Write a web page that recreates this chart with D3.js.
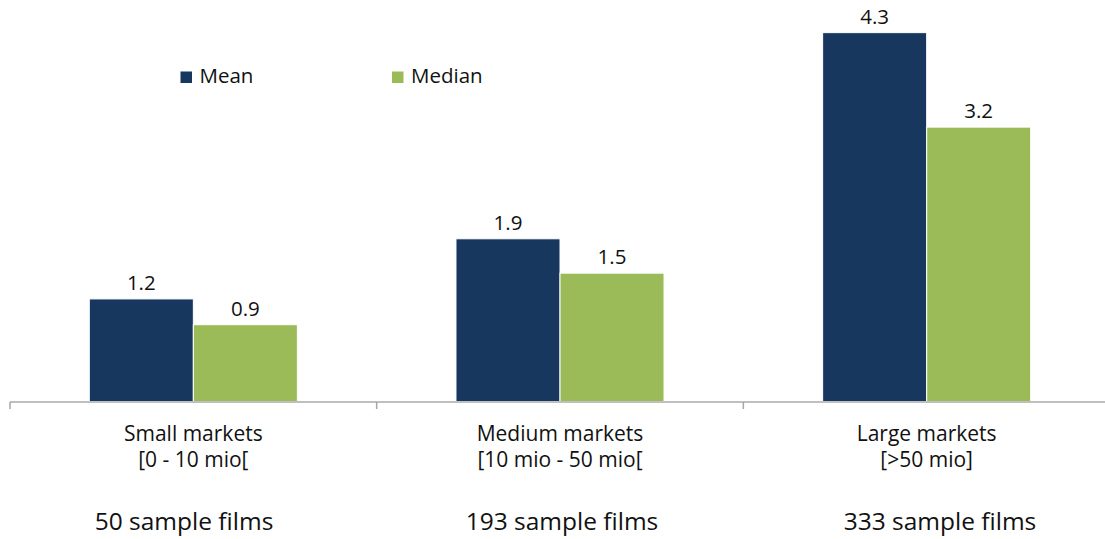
<!DOCTYPE html>
<html>
<head>
<meta charset="utf-8">
<script src="https://cdn.jsdelivr.net/npm/d3@7"></script>
<style>
  html, body { margin: 0; padding: 0; background: #fff; }
  svg { display: block; font-family: "Open Sans", sans-serif; }
</style>
</head>
<body>
<svg id="chart" width="1105" height="539"></svg>
<script>
// Market size groups and their two-line axis labels
const categories = ["Small", "Medium", "Large"];
const categoryLine1 = ["Small markets", "Medium markets", "Large markets"];
const categoryLine2 = ["[0 - 10 mio[", "[10 mio - 50 mio[", "[>50 mio]"];
const sampleLabels = ["50 sample films", "193 sample films", "333 sample films"];

// Series
const seriesNames = ["Mean", "Median"];
const meanValues = [1.2, 1.9, 4.3];
const medianValues = [0.9, 1.5, 3.2];
const seriesColors = ["#17375E", "#9BBB59"];

const rows = categories.map((c, i) => ({
  category: c,
  values: [
    { series: seriesNames[0], value: meanValues[i] },
    { series: seriesNames[1], value: medianValues[i] }
  ]
}));

const svg = d3.select("#chart");
const baseY = 402;

const x = d3.scaleBand().domain(categories).range([10, 1110]).padding(0);
const xInner = d3.scaleBand().domain(seriesNames)
  .range([79.3, x.bandwidth() - 79.3]).padding(0);
const y = d3.scaleLinear().domain([0, 4.68]).range([baseY, 0]);
const color = d3.scaleOrdinal().domain(seriesNames).range(seriesColors);

// Bars
const groups = svg.append("g").selectAll("g")
  .data(rows).join("g")
  .attr("transform", d => `translate(${x(d.category)},0)`);

groups.selectAll("rect")
  .data(d => d.values).join("rect")
  .attr("x", d => xInner(d.series))
  .attr("y", d => y(d.value))
  .attr("width", xInner.bandwidth())
  .attr("height", d => baseY - y(d.value))
  .attr("fill", d => color(d.series))
  .attr("stroke", "#ffffff")
  .attr("stroke-width", 1);

// Value labels
groups.selectAll("text.value")
  .data(d => d.values).join("text")
  .attr("class", "value")
  .attr("x", d => xInner(d.series) + xInner.bandwidth() / 2)
  .attr("y", d => y(d.value) - 9)
  .attr("text-anchor", "middle")
  .attr("font-size", 20.5)
  .attr("fill", "#111")
  .text(d => d.value.toFixed(1));

// Category axis with ticks on the band boundaries
const axis = svg.append("g").attr("transform", `translate(0,${baseY})`);
axis.append("line")
  .attr("x1", 10).attr("x2", 1105)
  .attr("y1", 0).attr("y2", 0)
  .attr("stroke", "#BFBFBF").attr("stroke-width", 2);
const boundaries = categories.map(c => x(c)).concat([x.range()[1]]);
axis.selectAll("line.tick")
  .data(boundaries).join("line")
  .attr("class", "tick")
  .attr("x1", d => d).attr("x2", d => d)
  .attr("y1", 0).attr("y2", 7)
  .attr("stroke", "#A6A6A6").attr("stroke-width", 1.5);

const labels = svg.append("g").selectAll("text")
  .data(categories).join("text")
  .attr("text-anchor", "middle")
  .attr("font-size", 21)
  .attr("fill", "#111");
labels.append("tspan")
  .attr("x", d => x(d) + x.bandwidth() / 2)
  .attr("y", 441)
  .text((d, i) => categoryLine1[i]);
labels.append("tspan")
  .attr("x", d => x(d) + x.bandwidth() / 2)
  .attr("y", 467)
  .text((d, i) => categoryLine2[i]);

// Sample size notes beneath the axis labels
const xNote = d3.scalePoint().domain(categories).range([184, 940]);
svg.append("g").selectAll("text")
  .data(categories).join("text")
  .attr("x", d => xNote(d))
  .attr("y", 530)
  .attr("text-anchor", "middle")
  .attr("font-size", 24.5)
  .attr("fill", "#111")
  .text((d, i) => sampleLabels[i]);

// Legend
const legendX = d3.scalePoint().domain(seriesNames).range([180.5, 392]);
const legend = svg.append("g").selectAll("g")
  .data(seriesNames).join("g")
  .attr("transform", d => `translate(${legendX(d)},71.5)`);
legend.append("rect")
  .attr("width", 11.5).attr("height", 11.5)
  .attr("fill", d => color(d));
legend.append("text")
  .attr("x", 19)
  .attr("y", 11.5)
  .attr("font-size", 20.5)
  .attr("fill", "#111")
  .text(d => d);
</script>
</body>
</html>
